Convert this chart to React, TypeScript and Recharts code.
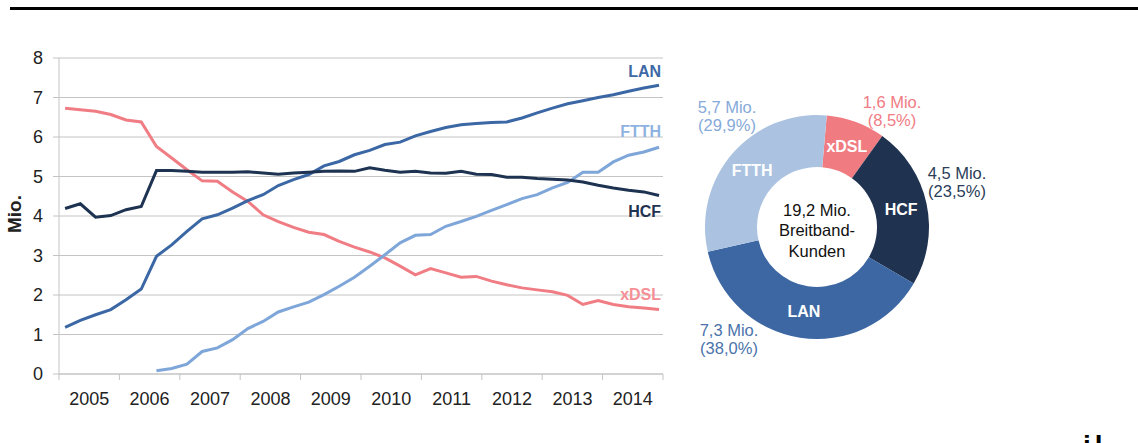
// Breitband-Kunden nach Anschlussart: Quartalsverlauf 2005–2014 (links) + Anteile Ende 2014 (Ring rechts)
import { CartesianGrid, Cell, Line, LineChart, Pie, PieChart, XAxis, YAxis } from 'recharts'

const FONT = '"Liberation Sans", Arial, Helvetica, sans-serif'

// ---- Daten (Mio. Kunden, je Quartal) ----
const YEARS = ['2005', '2006', '2007', '2008', '2009', '2010', '2011', '2012', '2013', '2014']
const QUARTERS = YEARS.flatMap((y) => ['Q1', 'Q2', 'Q3', 'Q4'].map((q) => `${q}/${y}`))

const LAN = [
  1.18, 1.36, 1.5, 1.63, 1.88, 2.15, 2.98, 3.27, 3.61, 3.93,
  4.03, 4.2, 4.39, 4.54, 4.77, 4.92, 5.05, 5.27, 5.38, 5.55,
  5.66, 5.81, 5.87, 6.03, 6.14, 6.24, 6.31, 6.34, 6.37, 6.38,
  6.48, 6.61, 6.73, 6.84, 6.92, 7.0, 7.07, 7.16, 7.24, 7.31,
]
const FTTH = [
  null, null, null, null, null, null, 0.08, 0.14, 0.25, 0.57,
  0.66, 0.87, 1.15, 1.33, 1.57, 1.7, 1.82, 2.01, 2.22, 2.45,
  2.73, 3.02, 3.32, 3.51, 3.53, 3.74, 3.86, 3.99, 4.14, 4.29,
  4.44, 4.54, 4.71, 4.85, 5.11, 5.11, 5.37, 5.54, 5.62, 5.74,
]
const HCF = [
  4.19, 4.31, 3.97, 4.01, 4.16, 4.24, 5.15, 5.15, 5.13, 5.11,
  5.11, 5.11, 5.12, 5.09, 5.06, 5.09, 5.11, 5.13, 5.14, 5.13,
  5.22, 5.16, 5.11, 5.13, 5.09, 5.08, 5.13, 5.06, 5.05, 4.98,
  4.98, 4.95, 4.93, 4.91, 4.86, 4.78, 4.71, 4.65, 4.61, 4.52,
]
const XDSL = [
  6.73, 6.69, 6.65, 6.57, 6.43, 6.38, 5.76, 5.47, 5.17, 4.89,
  4.88, 4.61, 4.37, 4.03, 3.86, 3.71, 3.59, 3.53, 3.36, 3.21,
  3.09, 2.94, 2.73, 2.51, 2.67, 2.56, 2.45, 2.47, 2.35, 2.26,
  2.18, 2.13, 2.08, 1.99, 1.76, 1.86, 1.76, 1.7, 1.67, 1.63,
]
const Y_TICKS = [0, 1, 2, 3, 4, 5, 6, 7, 8]

// Ring: Reihenfolge im Uhrzeigersinn ab oben
const PIE_NAMES = ['xDSL', 'HCF', 'LAN', 'FTTH']
const PIE_MIO = [1.6, 4.5, 7.3, 5.7]
const PIE_SHARE = [8.5, 23.5, 38.0, 29.9]
const TOTAL_MIO = 19.2

// ---- Farben ----
const C_LAN = '#3b68a5'
const C_FTTH = '#7ea6d9'
const C_HCF = '#1d3351'
const C_XDSL = '#f07c84'
const GRID = '#c4c4c4'
const TXT = '#222'
const PIE_FILL = ['#f07c82', '#1f3250', '#3c67a3', '#abc3e1']
const PIE_TEXT = ['#f07c84', '#2b3d57', '#4a73ab', '#86aad9']

// Geometrie Linienchart
const CHART_W = 680
const CHART_H = 414
const MARGIN = { top: 58, right: 17, bottom: 0, left: 0 }
const Y_W = 59
const PLOT_W = CHART_W - MARGIN.left - MARGIN.right - Y_W
const X_DOMAIN: [number, number] = [-0.4, 39.26]
const X_TICKS = YEARS.concat('').map(
  (_, k) => X_DOMAIN[0] + (k * (X_DOMAIN[1] - X_DOMAIN[0])) / YEARS.length,
)
const YEAR_PX = PLOT_W / YEARS.length
const LAST = QUARTERS.length - 1

const rows = QUARTERS.map((q, i) => ({
  i,
  q,
  lan: LAN[i],
  ftth: FTTH[i],
  hcf: HCF[i],
  xdsl: XDSL[i],
}))

const pieRows = PIE_NAMES.map((name, i) => ({ name, share: PIE_SHARE[i], mio: PIE_MIO[i] }))

// Beschriftung am Linienende (versetzt über/unter den Endpunkt)
const END_DY: Record<string, number> = { LAN: -14, FTTH: -16, HCF: 16, xDSL: -15 }
const END_COLOR: Record<string, string> = { LAN: '#3d69a5', FTTH: '#8fb3e0', HCF: '#1f3350', xDSL: '#f58f95' }

const endLabel = (name: string) => (p: any) =>
  p.index === LAST ? (
    <text
      key={p.key}
      x={p.cx + 2}
      y={p.cy + END_DY[name]}
      textAnchor="end"
      dominantBaseline="central"
      fontFamily={FONT}
      fontSize={16}
      fontWeight={700}
      fill={END_COLOR[name]}
    >
      {name}
    </text>
  ) : (
    <g key={p.key} />
  )

function YearTick(props: any) {
  const { x, y, index } = props
  if (index >= YEARS.length) return <g />
  return (
    <text x={x + YEAR_PX / 2} y={y + 23} textAnchor="middle" fontFamily={FONT} fontSize={18} fill={TXT}>
      {YEARS[index]}
    </text>
  )
}

const de = (v: number) => v.toFixed(1).replace('.', ',')

// Lage der Außenbeschriftungen relativ zur Ringmitte
const OUTER_POS: [number, number][] = [
  [75, -125],
  [140, -54],
  [-88, 103],
  [-90, -120],
]
const RAD = Math.PI / 180

function PieLabel(p: any) {
  const { cx, cy, midAngle, innerRadius, outerRadius, index } = p
  const r = (innerRadius + outerRadius) / 2
  const ix = cx + r * Math.cos(-midAngle * RAD)
  const iy = cy + r * Math.sin(-midAngle * RAD)
  const [ox, oy] = OUTER_POS[index]
  return (
    <g>
      <text
        x={ix}
        y={iy}
        textAnchor="middle"
        dominantBaseline="central"
        fontFamily={FONT}
        fontSize={16}
        fontWeight={700}
        fill="#fff"
      >
        {PIE_NAMES[index]}
      </text>
      <text x={cx + ox} y={cy + oy} textAnchor="middle" dominantBaseline="central" fontFamily={FONT} fontSize={16.5} fill={PIE_TEXT[index]}>
        {`${de(PIE_MIO[index])} Mio.`}
      </text>
      <text x={cx + ox} y={cy + oy + 18} textAnchor="middle" dominantBaseline="central" fontFamily={FONT} fontSize={16.5} fill={PIE_TEXT[index]}>
        {`(${de(PIE_SHARE[index])}%)`}
      </text>
    </g>
  )
}

export default function App() {
  return (
    <div
      style={{
        position: 'fixed',
        left: 0,
        top: 0,
        width: 1138,
        height: 443,
        overflow: 'hidden',
        background: '#fff',
        fontFamily: FONT,
      }}
    >
      {/* Linie oben */}
      <div style={{ position: 'absolute', left: 10, right: 0, top: 7, height: 3, background: '#000' }} />

      <div style={{ position: 'absolute', left: 0, top: 0 }}>
        <LineChart width={CHART_W} height={CHART_H} data={rows} margin={MARGIN}>
          <CartesianGrid stroke={GRID} vertical={false} />
          <XAxis
            dataKey="i"
            type="number"
            domain={X_DOMAIN}
            ticks={X_TICKS}
            interval={0}
            height={40}
            axisLine={{ stroke: GRID }}
            tickLine={{ stroke: GRID }}
            tickSize={6}
            tick={<YearTick />}
          />
          <YAxis
            domain={[0, 8]}
            ticks={Y_TICKS}
            interval={0}
            width={Y_W}
            axisLine={{ stroke: GRID }}
            tickLine={{ stroke: GRID }}
            tickSize={6}
            tickMargin={10}
            tick={{ fontSize: 18, fill: TXT, fontFamily: FONT }}
            label={{
              content: (lp: any) => {
                const vb = lp.viewBox || { x: 0, y: 58, height: 316 }
                const x = vb.x + 14
                const y = vb.y + vb.height / 2 - 2
                return (
                  <text
                    x={x}
                    y={y}
                    transform={`rotate(-90 ${x} ${y})`}
                    textAnchor="middle"
                    dominantBaseline="central"
                    fontFamily={FONT}
                    fontSize={19}
                    fontWeight={700}
                    fill={TXT}
                  >
                    Mio.
                  </text>
                )
              },
            }}
          />
          <Line dataKey="xdsl" stroke={C_XDSL} strokeWidth={3} dot={endLabel('xDSL')} activeDot={false} isAnimationActive={false} />
          <Line dataKey="ftth" stroke={C_FTTH} strokeWidth={3} dot={endLabel('FTTH')} activeDot={false} isAnimationActive={false} />
          <Line dataKey="lan" stroke={C_LAN} strokeWidth={3} dot={endLabel('LAN')} activeDot={false} isAnimationActive={false} />
          <Line dataKey="hcf" stroke={C_HCF} strokeWidth={3} dot={endLabel('HCF')} activeDot={false} isAnimationActive={false} />
        </LineChart>
      </div>

      <div style={{ position: 'absolute', left: 617, top: 77 }}>
        <PieChart width={400} height={300}>
          <Pie
            data={pieRows}
            dataKey="share"
            nameKey="name"
            cx="50%"
            cy="50%"
            innerRadius={60}
            outerRadius={112}
            startAngle={85}
            endAngle={-275}
            stroke="none"
            label={PieLabel}
            labelLine={false}
            isAnimationActive={false}
          >
            {pieRows.map((r, i) => (
              <Cell key={r.name} fill={PIE_FILL[i]} />
            ))}
          </Pie>
        </PieChart>
      </div>

      {/* Ringmitte */}
      <div
        style={{
          position: 'absolute',
          left: 717,
          width: 200,
          top: 199.75,
          textAlign: 'center',
          fontSize: 16.5,
          lineHeight: '20.5px',
          color: '#111',
        }}
      >
        {de(TOTAL_MIO)} Mio.
        <br />
        Breitband-
        <br />
        Kunden
      </div>

      {/* angeschnittener Text unten rechts */}
      <div style={{ position: 'absolute', left: 1083, top: 430, fontSize: 28, fontWeight: 700, letterSpacing: 4, lineHeight: '32px', color: '#000' }}>
        il
      </div>
    </div>
  )
}
